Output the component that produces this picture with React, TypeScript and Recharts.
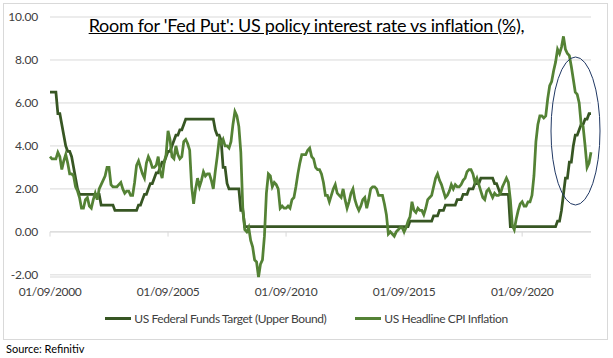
import { LineChart, Line, XAxis, YAxis, CartesianGrid, ReferenceLine } from 'recharts'

// monthly, 01/09/2000 .. 01/08/2023
const fedFunds = [
  6.5, 6.5, 6.5, 6.5,
  5.5, 5.5, 5.0, 4.5, 4.0, 3.75, 3.75, 3.5, 3.0, 2.5, 2.0, 1.75,
  1.75, 1.75, 1.75, 1.75, 1.75, 1.75, 1.75, 1.75, 1.75, 1.75, 1.25, 1.25,
  1.25, 1.25, 1.25, 1.25, 1.25, 1.0, 1.0, 1.0, 1.0, 1.0, 1.0, 1.0,
  1.0, 1.0, 1.0, 1.0, 1.0, 1.25, 1.25, 1.5, 1.75, 1.75, 2.0, 2.25,
  2.25, 2.5, 2.75, 2.75, 3.0, 3.25, 3.25, 3.5, 3.75, 3.75, 4.0, 4.25,
  4.5, 4.5, 4.75, 4.75, 5.0, 5.25, 5.25, 5.25, 5.25, 5.25, 5.25, 5.25,
  5.25, 5.25, 5.25, 5.25, 5.25, 5.25, 5.25, 5.25, 4.75, 4.5, 4.5, 4.25,
  3.0, 3.0, 2.25, 2.0, 2.0, 2.0, 2.0, 2.0, 2.0, 1.0, 1.0, 0.25,
  0.25, 0.25, 0.25, 0.25, 0.25, 0.25, 0.25, 0.25, 0.25, 0.25, 0.25, 0.25,
  0.25, 0.25, 0.25, 0.25, 0.25, 0.25, 0.25, 0.25, 0.25, 0.25, 0.25, 0.25,
  0.25, 0.25, 0.25, 0.25, 0.25, 0.25, 0.25, 0.25, 0.25, 0.25, 0.25, 0.25,
  0.25, 0.25, 0.25, 0.25, 0.25, 0.25, 0.25, 0.25, 0.25, 0.25, 0.25, 0.25,
  0.25, 0.25, 0.25, 0.25, 0.25, 0.25, 0.25, 0.25, 0.25, 0.25, 0.25, 0.25,
  0.25, 0.25, 0.25, 0.25, 0.25, 0.25, 0.25, 0.25, 0.25, 0.25, 0.25, 0.25,
  0.25, 0.25, 0.25, 0.25, 0.25, 0.25, 0.25, 0.25, 0.25, 0.25, 0.25, 0.5,
  0.5, 0.5, 0.5, 0.5, 0.5, 0.5, 0.5, 0.5, 0.5, 0.5, 0.5, 0.75,
  0.75, 0.75, 1.0, 1.0, 1.0, 1.25, 1.25, 1.25, 1.25, 1.25, 1.25, 1.5,
  1.5, 1.5, 1.75, 1.75, 1.75, 2.0, 2.0, 2.0, 2.25, 2.25, 2.25, 2.5,
  2.5, 2.5, 2.5, 2.5, 2.5, 2.5, 2.25, 2.25, 2.0, 1.75, 1.75, 1.75,
  1.75, 1.75, 0.25, 0.25, 0.25, 0.25, 0.25, 0.25, 0.25, 0.25, 0.25, 0.25,
  0.25, 0.25, 0.25, 0.25, 0.25, 0.25, 0.25, 0.25, 0.25, 0.25, 0.25, 0.25,
  0.25, 0.25, 0.5, 0.5, 1.0, 1.75, 2.5, 2.5, 3.25, 3.25, 4.0, 4.5,
  4.5, 4.75, 5.0, 5.0, 5.25, 5.25, 5.5, 5.5,
]

const cpi = [
  3.5, 3.4, 3.4, 3.4,
  3.7, 3.5, 2.9, 3.3, 3.6, 3.2, 2.7, 2.7, 2.6, 2.1, 1.9, 1.6,
  1.1, 1.1, 1.5, 1.6, 1.2, 1.1, 1.5, 1.8, 1.5, 2.0, 2.2, 2.4,
  2.6, 3.0, 3.0, 2.2, 2.1, 2.1, 2.1, 2.2, 2.3, 2.0, 1.8, 1.9,
  1.9, 1.7, 1.7, 2.3, 3.1, 3.3, 3.0, 2.7, 2.5, 3.2, 3.5, 3.3,
  3.0, 3.0, 3.1, 3.5, 2.8, 2.5, 3.2, 3.6, 4.7, 4.3, 3.5, 3.4,
  4.0, 3.6, 3.4, 3.5, 4.2, 4.3, 4.1, 3.8, 2.1, 1.3, 2.0, 2.5,
  2.1, 2.4, 2.8, 2.6, 2.7, 2.7, 2.4, 2.0, 2.8, 3.5, 4.3, 4.1,
  4.3, 4.0, 4.0, 3.9, 4.2, 5.0, 5.6, 5.4, 4.9, 3.7, 1.1, 0.1,
  0.0, 0.2, -0.4, -0.7, -1.3, -1.4, -2.1, -1.5, -1.3, -0.2, 1.8, 2.7,
  2.6, 2.1, 2.3, 2.2, 2.0, 1.1, 1.2, 1.1, 1.1, 1.2, 1.1, 1.5,
  1.6, 2.1, 2.7, 3.2, 3.6, 3.6, 3.6, 3.8, 3.9, 3.5, 3.4, 3.0,
  2.9, 2.9, 2.7, 2.3, 1.7, 1.7, 1.4, 1.7, 2.0, 2.2, 1.8, 1.7,
  1.6, 2.0, 1.5, 1.1, 1.4, 1.8, 2.0, 1.5, 1.2, 1.0, 1.2, 1.5,
  1.6, 1.1, 1.5, 2.0, 2.1, 2.1, 2.0, 1.7, 1.7, 1.7, 1.3, 0.8,
  -0.1, 0.0, -0.1, -0.2, 0.0, 0.1, 0.2, 0.2, 0.0, 0.2, 0.5, 0.7,
  1.4, 1.0, 0.9, 1.1, 1.0, 1.0, 0.8, 1.1, 1.5, 1.6, 1.7, 2.1,
  2.5, 2.7, 2.4, 2.2, 1.9, 1.6, 1.7, 1.9, 2.2, 2.0, 2.2, 2.1,
  2.1, 2.2, 2.4, 2.5, 2.8, 2.9, 2.9, 2.7, 2.3, 2.5, 2.2, 1.9,
  1.6, 1.5, 1.9, 2.0, 1.8, 1.6, 1.8, 1.7, 1.7, 1.8, 2.1, 2.3,
  2.5, 2.3, 1.5, 0.3, 0.1, 0.6, 1.0, 1.3, 1.4, 1.2, 1.2, 1.4,
  1.4, 1.7, 2.6, 4.2, 5.0, 5.4, 5.4, 5.3, 5.4, 6.2, 6.8, 7.0,
  7.5, 7.9, 8.5, 8.3, 8.6, 9.1, 8.5, 8.3, 8.2, 7.7, 7.1, 6.5,
  6.4, 6.0, 5.0, 4.9, 4.0, 3.0, 3.2, 3.7,
]

const xTickIdx = [0, 60, 120, 180, 240]
const xTickLabels = ['01/09/2000', '01/09/2005', '01/09/2010', '01/09/2015', '01/09/2020']
const yTicks = [-2, 0, 2, 4, 6, 8, 10]

const data = cpi.map((v, i) => ({ i, fed: fedFunds[i], cpi: v }))

const DARK = '#375623'
const LIGHT = '#548235'
const FONT = 'Lato, "Open Sans", sans-serif'

export default function App() {
  return (
    <div style={{ position: 'absolute', left: 0, top: 0, width: 613, height: 358, background: '#fff', fontFamily: FONT }}>
      <div style={{ position: 'absolute', left: 3, top: 3, width: 603, height: 335, border: '1px solid #D9D9D9' }} />
      <LineChart width={613} height={358} data={data} margin={{ top: 17, right: 22, bottom: 0, left: 0 }}>
        <CartesianGrid vertical={false} stroke="#D9D9D9" />
        <XAxis
          dataKey="i"
          type="number"
          domain={[0, 275]}
          ticks={xTickIdx}
          tickFormatter={(v: number) => xTickLabels[xTickIdx.indexOf(v)]}
          height={81}
          axisLine={false}
          tickLine={false}
          tickMargin={4}
          tick={{ fontSize: 12, fill: '#404040', fontFamily: FONT, letterSpacing: -0.4 }}
        />
        <YAxis
          domain={[-2, 10]}
          ticks={yTicks}
          width={50}
          axisLine={false}
          tickLine={false}
          tickMargin={6}
          tickFormatter={(v: number) => v.toFixed(2)}
          tick={{ fontSize: 12, fill: '#404040', fontFamily: FONT, letterSpacing: -0.2 }}
        />
        <ReferenceLine y={0} stroke="#D9D9D9" />
        {xTickIdx.map((t) => (
          <ReferenceLine key={t} segment={[{ x: t, y: 0 }, { x: t, y: -0.22 }]} stroke="#D9D9D9" />
        ))}
        <Line type="linear" dataKey="fed" stroke={DARK} strokeWidth={2.75} dot={false} isAnimationActive={false} />
        <Line type="linear" dataKey="cpi" stroke={LIGHT} strokeWidth={2.75} dot={false} isAnimationActive={false} />
      </LineChart>
      <div style={{ position: 'absolute', left: 0, top: 14, width: 613, textAlign: 'center', fontSize: 18, letterSpacing: -0.27, color: '#000', textDecoration: 'underline' }}>
        Room for 'Fed Put': US policy interest rate vs inflation (%),
      </div>
      <svg style={{ position: 'absolute', left: 0, top: 0 }} width={613} height={358}>
        <ellipse cx={575.5} cy={131} rx={24.5} ry={74} fill="none" stroke="#203864" strokeWidth={1} />
      </svg>
      <div style={{ position: 'absolute', left: 0, top: 311, width: 613, display: 'flex', justifyContent: 'center', alignItems: 'center', fontSize: 12, letterSpacing: -0.4, color: '#404040' }}>
        <span style={{ display: 'inline-block', width: 26, height: 3, background: DARK, marginRight: 3 }} />
        <span style={{ marginRight: 29 }}>US Federal Funds Target (Upper Bound)</span>
        <span style={{ display: 'inline-block', width: 26, height: 3, background: LIGHT, marginRight: 3 }} />
        <span>US Headline CPI Inflation</span>
      </div>
      <div style={{ position: 'absolute', left: 6, top: 342, fontSize: 11, color: '#000' }}>Source: Refinitiv</div>
    </div>
  )
}
